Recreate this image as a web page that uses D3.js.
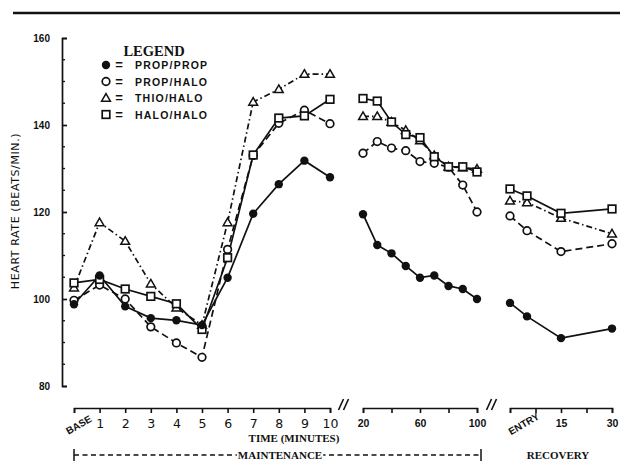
<!DOCTYPE html>
<html><head><meta charset="utf-8">
<script src="https://cdn.jsdelivr.net/npm/d3@7"></script>
<style>body{margin:0;background:#fff} svg{display:block}</style>
</head><body><svg id="c" width="622" height="465"></svg>
<script>
// ---------- data ----------
const seriesNames = ["PROP/PROP", "PROP/HALO", "THIO/HALO", "HALO/HALO"];
const maintMinutes = [0, 1, 2, 3, 4, 5, 6, 7, 8, 9, 10];
const maintTickLabels = ["BASE", "1", "2", "3", "4", "5", "6", "7", "8", "9", "10"];
const lateMinutes = [20, 30, 40, 50, 60, 70, 80, 90, 100];
const lateTicks = [20, 40, 60, 80, 100];
const lateTickLabels = ["20", "", "60", "", "100"];
const recoveryMinutes = [0, 5, 15, 30];
const recoveryTicks = [0, 7.5, 15, 22.5, 30];
const recoveryTickLabels = ["ENTRY", "", "15", "", "30"];
const yTicks = [80, 100, 120, 140, 160];

const propPropMaint = [98.8, 105.4, 98.3, 95.6, 95.1, 94.0, 104.9, 119.6, 126.4, 131.8, 128.0];
const propPropLate = [119.5, 112.4, 110.5, 107.6, 104.9, 105.4, 103.0, 102.3, 100.0];
const propPropRecovery = [99.1, 96.0, 91.0, 93.2];

const propHaloMaint = [99.7, 103.2, 100.0, 93.6, 89.9, 86.6, 111.4, 133.0, 140.4, 143.4, 140.3];
const propHaloLate = [133.5, 136.2, 134.7, 134.1, 131.6, 131.2, 130.3, 126.2, 120.0];
const propHaloRecovery = [119.1, 115.7, 110.9, 112.7];

const thioHaloMaint = [102.6, 117.6, 113.3, 103.5, 98.0, 94.0, 117.6, 145.3, 148.2, 151.7, 151.7];
const thioHaloLate = [142.0, 142.0, 140.7, 138.8, 136.4, 133.0, 130.4, 130.2, 129.9];
const thioHaloRecovery = [122.6, 122.2, 118.6, 115.0];

const haloHaloMaint = [103.7, 104.5, 102.3, 100.6, 98.9, 93.0, 109.5, 133.1, 141.6, 142.1, 145.9];
const haloHaloLate = [146.1, 145.5, 140.7, 137.8, 137.1, 132.7, 130.4, 130.4, 129.2];
const haloHaloRecovery = [125.3, 123.7, 119.7, 120.7];

// ---------- setup ----------
const svg = d3.select("#c");
const ink = "#111";
const y = d3.scaleLinear().domain([80, 160]).range([386, 38]);
const xMaint = d3.scaleLinear().domain([0, 10]).range([74, 330]);
const xLate = d3.scaleLinear().domain([20, 100]).range([363, 477]);
const xRec = d3.scaleLinear().domain([0, 30]).range([510, 612]);
const axisY = 408;

// top rule
svg.append("line").attr("x1", 13).attr("x2", 620).attr("y1", 13).attr("y2", 13)
  .attr("stroke", ink).attr("stroke-width", 2.5);

// ---------- y axis ----------
const gy = svg.append("g").attr("transform", "translate(62,0)")
  .call(d3.axisLeft(y).tickValues(yTicks).tickSize(-5).tickSizeOuter(-5).tickPadding(12));
gy.select(".domain").attr("stroke", ink).attr("stroke-width", 1.7);
gy.selectAll(".tick line").attr("stroke", ink).attr("stroke-width", 1.7);
gy.selectAll(".tick text").attr("font-family", "Liberation Sans, Arial, sans-serif")
  .attr("font-weight", "bold").attr("font-size", 10).attr("fill", ink);
const minor = d3.range(80, 161, 5).filter(v => v % 20 !== 0);
gy.selectAll(".minor").data(minor).join("line").attr("class", "minor")
  .attr("x1", 0).attr("x2", 3).attr("y1", d => y(d)).attr("y2", d => y(d))
  .attr("stroke", ink).attr("stroke-width", 1.3);

svg.append("text").attr("transform", "translate(19,211) rotate(-90)")
  .attr("text-anchor", "middle").attr("font-family", "DejaVu Sans, sans-serif")
  .attr("font-size", 11).attr("letter-spacing", 0.6).attr("fill", ink)
  .text("HEART RATE (BEATS/MIN.)");

// ---------- x axes ----------
function styleX(g) {
  g.select(".domain").attr("stroke", ink).attr("stroke-width", 1.6);
  g.selectAll(".tick line").attr("stroke", ink).attr("stroke-width", 1.6);
  g.selectAll(".tick text").attr("fill", ink);
}
const gx1 = svg.append("g").attr("transform", `translate(0,${axisY})`)
  .call(d3.axisBottom(xMaint).tickValues(maintMinutes).tickSize(5).tickSizeOuter(5)
    .tickFormat((d, i) => maintTickLabels[i]).tickPadding(8));
styleX(gx1);
gx1.selectAll(".tick text").attr("font-family", "DejaVu Sans, sans-serif").attr("font-size", 12.5)
  .attr("dy", "0.55em");
gx1.selectAll(".tick text").filter(d => d === 0)
  .attr("font-family", "Liberation Sans, Arial, sans-serif")
  .attr("font-size", 10).attr("font-weight", "bold").attr("text-anchor", "middle")
  .attr("transform", "translate(-2,6) rotate(-30)").attr("dy", "0.3em");

const gx2 = svg.append("g").attr("transform", `translate(0,${axisY})`)
  .call(d3.axisBottom(xLate).tickValues(lateTicks).tickSize(5).tickSizeOuter(5)
    .tickFormat((d, i) => lateTickLabels[i]).tickPadding(8));
styleX(gx2);
gx2.selectAll(".tick text").attr("font-family", "Liberation Sans, Arial, sans-serif")
  .attr("font-weight", "bold").attr("font-size", 10.5).attr("dy", "0.6em");

const gx3 = svg.append("g").attr("transform", `translate(0,${axisY})`)
  .call(d3.axisBottom(xRec).tickValues(recoveryTicks).tickSize(5).tickSizeOuter(5)
    .tickFormat((d, i) => recoveryTickLabels[i]).tickPadding(8));
styleX(gx3);
gx3.selectAll(".tick text").attr("font-family", "Liberation Sans, Arial, sans-serif")
  .attr("font-weight", "bold").attr("font-size", 10.5).attr("dy", "0.6em");
gx3.selectAll(".tick text").filter(d => d === 0)
  .attr("font-size", 10).attr("text-anchor", "middle")
  .attr("transform", "translate(7,5) rotate(-30)").attr("dy", "0.3em");

// break marks
function breakMark(cx) {
  [-2.5, 2.5].forEach(o => {
    svg.append("line").attr("x1", cx + o - 2.5).attr("x2", cx + o + 2.5)
      .attr("y1", axisY + 2).attr("y2", axisY - 9)
      .attr("stroke", ink).attr("stroke-width", 1.6);
  });
}
breakMark((xMaint(10) + xLate(20)) / 2 - 3);
breakMark((xLate(100) + xRec(0)) / 2 - 2);

// axis captions
svg.append("text").attr("x", 294).attr("y", 442).attr("text-anchor", "middle")
  .attr("font-family", "Liberation Serif, Times New Roman, serif").attr("font-weight", "bold")
  .attr("font-size", 11).attr("fill", ink).text("TIME (MINUTES)");

const bx0 = xMaint(0), bx1 = 481, by = 455;
svg.append("line").attr("x1", bx0).attr("x2", bx1).attr("y1", by).attr("y2", by)
  .attr("stroke", ink).attr("stroke-width", 1.3).attr("stroke-dasharray", "5,3.5");
[bx0, bx1].forEach(x => svg.append("line").attr("x1", x).attr("x2", x)
  .attr("y1", by - 6).attr("y2", by + 6).attr("stroke", ink).attr("stroke-width", 1.5));
const mg = svg.append("g");
const mrect = mg.append("rect").attr("fill", "#fff");
const mt = mg.append("text").attr("x", 280).attr("y", by + 4).attr("text-anchor", "middle")
  .attr("font-family", "Liberation Serif, Times New Roman, serif").attr("font-weight", "bold")
  .attr("font-size", 11).attr("fill", ink).text("MAINTENANCE");
const bb = mt.node().getBBox();
mrect.attr("x", bb.x - 1).attr("y", bb.y).attr("width", bb.width + 2).attr("height", bb.height);
svg.append("text").attr("x", 558).attr("y", by + 4).attr("text-anchor", "middle")
  .attr("font-family", "Liberation Serif, Times New Roman, serif").attr("font-weight", "bold")
  .attr("font-size", 11).attr("fill", ink).text("RECOVERY");

// ---------- series ----------
const series = [
  { name: seriesNames[0], segs: [propPropMaint, propPropLate, propPropRecovery], dash: null, marker: "filled" },
  { name: seriesNames[1], segs: [propHaloMaint, propHaloLate, propHaloRecovery], dash: "7,4", marker: "circle" },
  { name: seriesNames[2], segs: [thioHaloMaint, thioHaloLate, thioHaloRecovery], dash: "6,3,1.5,3", marker: "triangle" },
  { name: seriesNames[3], segs: [haloHaloMaint, haloHaloLate, haloHaloRecovery], dash: null, marker: "square" }
];
const segX = [[xMaint, maintMinutes], [xLate, lateMinutes], [xRec, recoveryMinutes]];

const gl = svg.append("g");
series.forEach(s => {
  s.segs.forEach((vals, k) => {
    const [sx, tt] = segX[k];
    const pts = vals.map((v, i) => [sx(tt[i]), y(v)]);
    gl.append("path").attr("d", d3.line()(pts)).attr("fill", "none")
      .attr("stroke", ink).attr("stroke-width", 1.7)
      .attr("stroke-dasharray", s.dash);
  });
});

function drawMarker(g, type, cx, cy) {
  if (type === "filled") {
    g.append("circle").attr("cx", cx).attr("cy", cy).attr("r", 4.2).attr("fill", ink);
  } else if (type === "circle") {
    g.append("circle").attr("cx", cx).attr("cy", cy).attr("r", 3.8)
      .attr("fill", "#fff").attr("stroke", ink).attr("stroke-width", 1.7);
  } else if (type === "square") {
    g.append("rect").attr("x", cx - 3.8).attr("y", cy - 3.8).attr("width", 7.6).attr("height", 7.6)
      .attr("fill", "#fff").attr("stroke", ink).attr("stroke-width", 1.7);
  } else {
    g.append("path").attr("d", `M${cx},${cy - 4.4}L${cx + 4.4},${cy + 3.2}L${cx - 4.4},${cy + 3.2}Z`)
      .attr("fill", "#fff").attr("stroke", ink).attr("stroke-width", 1.5);
  }
}
const gm = svg.append("g");
[series[2], series[1], series[3], series[0]].forEach(s => {
  s.segs.forEach((vals, k) => {
    const [sx, tt] = segX[k];
    vals.forEach((v, i) => drawMarker(gm, s.marker, sx(tt[i]), y(v)));
  });
});

// ---------- legend ----------
svg.append("text").attr("x", 154).attr("y", 56).attr("text-anchor", "middle")
  .attr("font-family", "Liberation Serif, Times New Roman, serif").attr("font-size", 14.5)
  .attr("font-weight", "bold").attr("fill", ink).text("LEGEND");
const lg = svg.append("g");
series.forEach((s, i) => {
  const ly = 65 + i * 16.5;
  drawMarker(lg, s.marker, 106, ly);
  lg.append("text").attr("x", 119).attr("y", ly + 4).attr("text-anchor", "middle")
    .attr("font-family", "Liberation Sans, Arial, sans-serif").attr("font-weight", "bold")
    .attr("font-size", 13).attr("fill", ink).text("=");
  lg.append("text").attr("x", 135).attr("y", ly + 4)
    .attr("font-family", "Liberation Sans, Arial, sans-serif").attr("font-weight", "bold")
    .attr("font-size", 10.5).attr("letter-spacing", 1.2).attr("fill", ink).text(s.name);
});
</script></body></html>
